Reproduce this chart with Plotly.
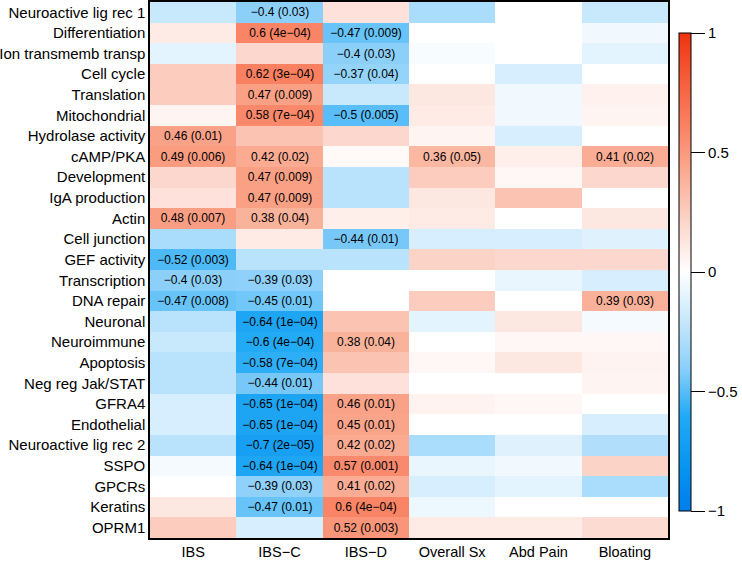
import plotly.graph_objects as go

# --- data ---
pathways = [
    "Neuroactive lig rec 1", "Differentiation", "Ion transmemb transp", "Cell cycle",
    "Translation", "Mitochondrial", "Hydrolase activity", "cAMP/PKA", "Development",
    "IgA production", "Actin", "Cell junction", "GEF activity", "Transcription",
    "DNA repair", "Neuronal", "Neuroimmune", "Apoptosis", "Neg reg Jak/STAT",
    "GFRA4", "Endothelial", "Neuroactive lig rec 2", "SSPO", "GPCRs", "Keratins", "OPRM1",
]
groups = ["IBS", "IBS\u2212C", "IBS\u2212D", "Overall Sx", "Abd Pain", "Bloating"]

# correlation per pathway, one column per group (IBS, IBS-C, IBS-D, Overall, Abd, Bloating)
rho = [
    [-0.20, -0.40, 0.15, -0.30, 0.00, -0.20],
    [0.10, 0.60, -0.47, 0.00, 0.00, -0.05],
    [-0.10, 0.20, -0.40, -0.03, 0.00, -0.10],
    [0.25, 0.62, -0.37, 0.00, -0.15, 0.00],
    [0.25, 0.47, -0.20, 0.12, -0.05, 0.07],
    [0.05, 0.58, -0.50, 0.10, -0.05, 0.05],
    [0.46, 0.30, 0.20, 0.05, -0.15, 0.00],
    [0.49, 0.42, 0.03, 0.36, 0.08, 0.41],
    [0.20, 0.47, -0.25, 0.25, 0.04, 0.20],
    [0.15, 0.47, -0.25, 0.12, 0.30, 0.00],
    [0.48, 0.38, 0.08, 0.10, 0.00, 0.12],
    [-0.30, 0.10, -0.44, -0.15, -0.15, -0.12],
    [-0.52, -0.25, -0.25, 0.22, 0.20, 0.20],
    [-0.40, -0.39, 0.00, 0.00, -0.08, -0.15],
    [-0.47, -0.45, 0.00, 0.25, 0.00, 0.39],
    [-0.25, -0.64, 0.30, -0.10, 0.12, -0.04],
    [-0.20, -0.60, 0.38, 0.00, 0.04, 0.04],
    [-0.25, -0.58, 0.30, 0.04, 0.12, 0.06],
    [-0.25, -0.44, 0.15, 0.00, 0.00, 0.05],
    [-0.15, -0.65, 0.46, 0.06, 0.04, 0.00],
    [-0.15, -0.65, 0.45, 0.00, 0.00, -0.15],
    [-0.25, -0.70, 0.42, -0.30, -0.12, -0.28],
    [-0.04, -0.64, 0.57, -0.08, -0.05, 0.22],
    [0.00, -0.39, 0.41, -0.15, -0.10, -0.30],
    [0.12, -0.47, 0.60, -0.07, 0.00, 0.00],
    [0.25, -0.15, 0.52, 0.10, 0.10, 0.18],
]

# p-values shown only for significant cells
pvals = [
    [None, "0.03", None, None, None, None],
    [None, "4e-04", "0.009", None, None, None],
    [None, None, "0.03", None, None, None],
    [None, "3e-04", "0.04", None, None, None],
    [None, "0.009", None, None, None, None],
    [None, "7e-04", "0.005", None, None, None],
    ["0.01", None, None, None, None, None],
    ["0.006", "0.02", None, "0.05", None, "0.02"],
    [None, "0.009", None, None, None, None],
    [None, "0.009", None, None, None, None],
    ["0.007", "0.04", None, None, None, None],
    [None, None, "0.01", None, None, None],
    ["0.003", None, None, None, None, None],
    ["0.03", "0.03", None, None, None, None],
    ["0.008", "0.01", None, None, None, "0.03"],
    [None, "1e-04", None, None, None, None],
    [None, "4e-04", "0.04", None, None, None],
    [None, "7e-04", None, None, None, None],
    [None, "0.01", None, None, None, None],
    [None, "1e-04", "0.01", None, None, None],
    [None, "1e-04", "0.01", None, None, None],
    [None, "2e-05", "0.02", None, None, None],
    [None, "1e-04", "0.001", None, None, None],
    [None, "0.03", "0.02", None, None, None],
    [None, "0.01", "4e-04", None, None, None],
    [None, None, "0.003", None, None, None],
]

# cell labels "r (p)" with true minus signs
labels = []
for r_row, p_row in zip(rho, pvals):
    row = []
    for r, p in zip(r_row, p_row):
        if p is None:
            row.append("")
        else:
            row.append(f"{r:g} ({p})".replace("-", "\u2212"))
    labels.append(row)

colorscale = [
    [0.0, "rgb(0,125,235)"],
    [0.1, "rgb(10,150,240)"],
    [0.2, "rgb(35,170,245)"],
    [0.3, "rgb(140,208,250)"],
    [0.4, "rgb(200,232,252)"],
    [0.5, "rgb(255,255,255)"],
    [0.6, "rgb(252,215,205)"],
    [0.7, "rgb(250,175,150)"],
    [0.8, "rgb(250,132,102)"],
    [0.9, "rgb(245,95,60)"],
    [1.0, "rgb(240,50,15)"],
]

FONT = "Liberation Sans, Arial, Helvetica, sans-serif"

fig = go.Figure(go.Heatmap(
    z=rho, x=groups, y=pathways,
    text=labels, texttemplate="%{text}",
    textfont=dict(size=12, color="black", family=FONT),
    colorscale=colorscale, zmin=-1, zmax=1,
    colorbar=dict(
        x=1.021, xanchor="left", y=0.496, yanchor="middle",
        thickness=12, len=478, lenmode="pixels", ypad=0, xpad=0,
        outlinecolor="black", outlinewidth=1,
        tickvals=[1, 0.5, 0, -0.5, -1],
        ticktext=["1", "0.5", "0", "\u22120.5", "\u22121"],
        ticks="outside", ticklen=14, tickcolor="black", tickwidth=1,
        tickfont=dict(size=15, color="black", family=FONT),
    ),
    hoverongaps=False,
))

fig.update_layout(
    width=742, height=563,
    margin=dict(l=150, r=74, t=2, b=25, autoexpand=False),
    plot_bgcolor="white", paper_bgcolor="white",
    font=dict(family=FONT, color="black"),
)
fig.update_xaxes(
    showline=True, linecolor="black", linewidth=1.5, mirror=True,
    ticks="", tickfont=dict(size=14.5), showgrid=False, zeroline=False,
)
fig.update_yaxes(
    autorange="reversed", showline=True, linecolor="black", linewidth=1.5, mirror=True,
    ticks="", tickfont=dict(size=15), showgrid=False, zeroline=False,
    ticklabelstandoff=0,
)

# page has a default 8px body margin; drop it so the figure sits at the corner
fig.write_html(
    "out.html",
    config={"displayModeBar": False},
    post_script="document.body.style.margin='0';",
)
